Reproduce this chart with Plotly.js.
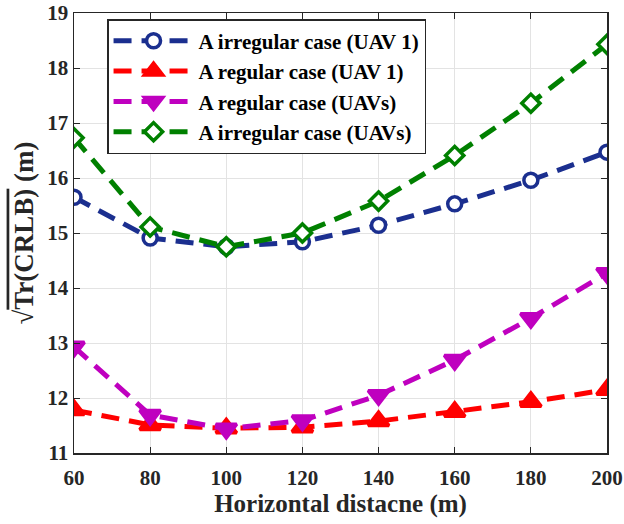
<!DOCTYPE html>
<html>
<head>
<meta charset="utf-8">
<script src="https://cdn.plot.ly/plotly-3.0.1.min.js"></script>
<style>html,body{margin:0;padding:0;background:#fff;}</style>
</head>
<body>
<div id="chart" style="width:624px;height:524px;"></div>
<script>
const distances = [60, 80, 100, 120, 140, 160, 180, 200];
const irregularUAV1 = [15.65, 14.91, 14.75, 14.84, 15.14, 15.53, 15.96, 16.47];
const regularUAV1 = [11.78, 11.51, 11.45, 11.47, 11.58, 11.75, 11.93, 12.15];
const regularUAVs = [12.93, 11.69, 11.44, 11.59, 12.05, 12.69, 13.45, 14.27];
const irregularUAVs = [16.73, 15.11, 14.75, 15.0, 15.58, 16.41, 17.36, 18.43];
const seriesNames = ['A irregular case (UAV 1)', 'A regular case (UAV 1)', 'A regular case (UAVs)', 'A irregular case (UAVs)'];
const xTicks = [60, 80, 100, 120, 140, 160, 180, 200];
const yTicks = [11, 12, 13, 14, 15, 16, 17, 18, 19];

const font = "Liberation Serif";
function tr(y, name, color, symbol, fill) {
  return {
    x: distances, y: y, name: '<b>' + name + '</b>', type: 'scatter', mode: 'lines+markers',
    line: {color: color, width: 5, dash: '18px,10px'},
    marker: {symbol: symbol, size: symbol.indexOf('triangle') === 0 ? 18 : 14,
      color: fill, line: {color: color, width: 3.5}}
  };
}
const data = [
  tr(irregularUAV1, seriesNames[0], '#1b2f8f', 'circle', '#ffffff'),
  tr(regularUAV1, seriesNames[1], '#ff0000', 'triangle-up', '#ff0000'),
  tr(regularUAVs, seriesNames[2], '#bf00bf', 'triangle-down', '#bf00bf'),
  tr(irregularUAVs, seriesNames[3], '#008000', 'diamond', '#ffffff')
];
const layout = {
  width: 624, height: 524,
  margin: {l: 74, r: 17, t: 13, b: 71},
  paper_bgcolor: '#fff', plot_bgcolor: '#fff',
  font: {family: font, size: 21, color: '#262626'},
  showlegend: true,
  legend: {x: 0.062, y: 0.986, xanchor: 'left', yanchor: 'top',
    bgcolor: '#fff', bordercolor: '#262626', borderwidth: 1.5,
    itemwidth: 80, tracegroupgap: 0,
    font: {family: font, size: 21, color: '#000'}},
  xaxis: {
    range: [60, 200], tickvals: xTicks, ticktext: xTicks.map(v => '<b>' + v + '</b>'),
    showgrid: true, gridcolor: '#e3e3e3', gridwidth: 1,
    showline: true, linecolor: '#262626', linewidth: 1.5, mirror: 'ticks',
    ticks: 'inside', ticklen: 6, tickcolor: '#262626', zeroline: false,
    ticklabelstandoff: 5,
    tickfont: {family: font, size: 21, color: '#262626'},
    title: {text: '<b>Horizontal distacne (m)</b>', font: {family: font, size: 25, color: '#262626'}, standoff: 6}
  },
  yaxis: {
    range: [11, 19], tickvals: yTicks, ticktext: yTicks.map(v => '<b>' + v + '</b>'),
    showgrid: true, gridcolor: '#e3e3e3', gridwidth: 1,
    showline: true, linecolor: '#262626', linewidth: 1.5, mirror: 'ticks',
    ticks: 'inside', ticklen: 6, tickcolor: '#262626', zeroline: false,
    tickfont: {family: font, size: 21, color: '#262626'},
    title: {text: '<b>√<span style="text-decoration:overline">Tr(CRLB)</span> (m)</b>', font: {family: font, size: 27, color: '#262626'}, standoff: 6}
  }
};
Plotly.newPlot('chart', data, layout, {displayModeBar: false, staticPlot: true});
</script>
</body>
</html>
